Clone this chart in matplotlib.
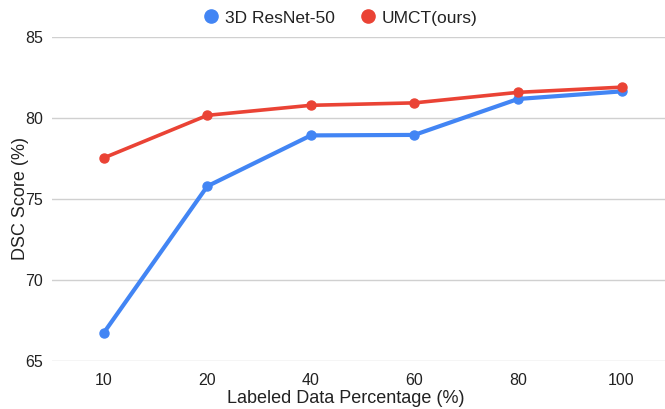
import matplotlib
matplotlib.use("Agg")
import matplotlib.pyplot as plt
from matplotlib.lines import Line2D

plt.rcParams['font.family'] = ['Liberation Sans', 'DejaVu Sans']

categories = ["10", "20", "40", "60", "80", "100"]
resnet = [66.72, 75.78, 78.92, 78.95, 81.17, 81.64]
umct = [77.53, 80.16, 80.78, 80.93, 81.58, 81.9]
series_names = ["3D ResNet-50", "UMCT(ours)"]
yticks = [65, 70, 75, 80, 85]

blue = "#4285F4"
red = "#EA4335"
txt = '#222222'

fig = plt.figure(figsize=(6.65, 4.09), dpi=100)
ax = fig.add_axes([52/665, 48.3/409, 1 - 52/665, (360.7-37)/409])
x = list(range(len(categories)))
ax.plot(x, resnet, color=blue, lw=3.0, marker='o', ms=6.5, solid_capstyle='round', zorder=3)
ax.plot(x, umct, color=red, lw=2.6, marker='o', ms=6.5, solid_capstyle='round', zorder=4)

ax.set_xlim(-0.5, 5.42)
ax.set_ylim(65, 85)
ax.set_yticks(yticks)
ax.set_yticklabels([str(v) for v in yticks])
ax.set_xticks(x)
ax.set_xticklabels(categories)
ax.grid(axis='y', color='#d0d0d0', lw=1.0)
ax.set_axisbelow(True)
for s in ax.spines.values():
    s.set_visible(False)
ax.tick_params(axis='both', length=0, labelsize=11.5, colors=txt)
ax.tick_params(axis='x', pad=9)
ax.tick_params(axis='y', pad=6.5)
ax.set_xlabel("Labeled Data Percentage (%)", fontsize=13, color=txt)
ax.set_ylabel("DSC Score (%)", fontsize=13, color=txt)
ax.xaxis.set_label_coords((345.5 - 52) / 613, (360.7 - 390) / 323.7)
ax.yaxis.set_label_coords((29 - 52) / 613, 0.5)

handles = [Line2D([], [], color=blue, marker='o', ls='none', ms=9.5),
           Line2D([], [], color=red, marker='o', ls='none', ms=9.5)]
fig.legend(handles, series_names, loc='center', bbox_to_anchor=(0.511, 1 - 18/409),
           ncol=2, frameon=False, fontsize=12.5, handletextpad=0.3, columnspacing=1.4,
           handlelength=1.0, labelcolor=txt)

fig.savefig("out.png", dpi=100)
